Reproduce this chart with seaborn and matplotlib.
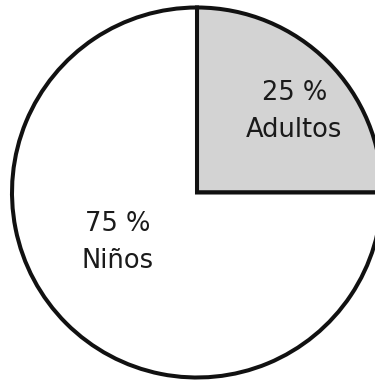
import numpy as np
import matplotlib
matplotlib.use("Agg")
import matplotlib.pyplot as plt
import seaborn as sns

sns.set_theme(style="white")
plt.rcParams['font.family'] = ['DejaVu Sans']

# datos
grupos = ["Adultos", "Niños"]
porcentajes = [25, 75]
colores = ["#d3d3d3", "#ffffff"]

fig = plt.figure(figsize=(3.75, 3.8), dpi=100)
ax = fig.add_axes([12 / 375, 2.5 / 380, 370 / 375, 370 / 380])

wedges, _ = ax.pie(porcentajes, colors=colores, startangle=0, counterclock=True,
                   wedgeprops=dict(edgecolor="#111111", linewidth=2.9))

# etiquetas dentro de cada sector
pos = {"Adultos": (0.525, 0.44), "Niños": (-0.43, -0.27)}
for g, p in zip(grupos, porcentajes):
    x, y = pos[g]
    ax.text(x, y, f"{p} %\n{g}", ha="center", va="center", fontsize=18.5,
            color="#1a1a1a", linespacing=1.55)

ax.set_xlim(-1, 1)
ax.set_ylim(-1, 1)
ax.axis("off")

fig.savefig("out.png", dpi=100)
